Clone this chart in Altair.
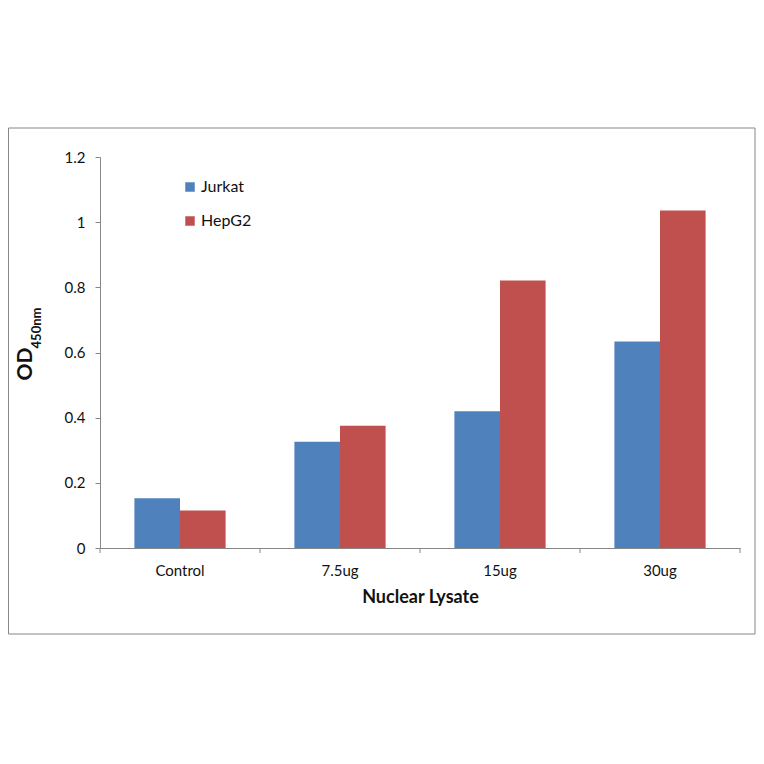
import altair as alt
import pandas as pd

categories = ["Control", "7.5ug", "15ug", "30ug"]
series = ["Jurkat", "HepG2"]
jurkat = [0.153, 0.326, 0.420, 0.634]
hepg2 = [0.115, 0.375, 0.821, 1.036]
y_ticks = [0, 0.2, 0.4, 0.6, 0.8, 1.0, 1.2]
colors = ["#4F81BD", "#C0504D"]
boundaries = [0, 1, 2, 3, 4]

rows = []
for i, c in enumerate(categories):
    rows.append({"cat": c, "series": "Jurkat", "value": jurkat[i]})
    rows.append({"cat": c, "series": "HepG2", "value": hepg2[i]})
df = pd.DataFrame(rows)

W, H = 640, 391
FONT = "Lato"
GRAY = "#878787"

border = alt.Chart(alt.Data(values=[{}])).mark_rect(
    fill=None, stroke=GRAY, strokeWidth=1
).encode(x=alt.value(-91.5), x2=alt.value(655), y=alt.value(-29), y2=alt.value(477))

bars = alt.Chart(df).mark_bar().encode(
    x=alt.X("cat:N", sort=categories,
            scale=alt.Scale(paddingInner=0.43, paddingOuter=0.215),
            axis=alt.Axis(title="Nuclear Lysate", labelAngle=0, ticks=False, tickSize=0,
                          labelPadding=15, labelFont=FONT, labelFontSize=15, labelColor="#111",
                          titleFont=FONT, titleFontSize=18, titleFontWeight="bold", titleColor="#111",
                          titlePadding=10, domainColor=GRAY, grid=False)),
    xOffset=alt.XOffset("series:N", sort=series, scale=alt.Scale(paddingInner=0, paddingOuter=0)),
    y=alt.Y("value:Q", scale=alt.Scale(domain=[0, 1.2], nice=False, zero=True),
            axis=alt.Axis(values=y_ticks, format="~g", title=None, grid=False,
                          tickSize=5, tickColor=GRAY, domainColor=GRAY, labelPadding=10,
                          labelFont=FONT, labelFontSize=15, labelColor="#111")),
    color=alt.Color("series:N", sort=series,
                    scale=alt.Scale(domain=series, range=colors),
                    legend=alt.Legend(orient="none", legendX=82, legendY=22, title=None,
                                      symbolType="square", symbolSize=90, symbolStrokeWidth=0,
                                      labelFont=FONT, labelFontSize=16, labelColor="#111",
                                      rowPadding=18, labelOffset=3)),
)

ticks = alt.Chart(alt.Data(values=[{"t": t} for t in boundaries])).mark_rule(color=GRAY).encode(
    x=alt.X("t:Q", scale=alt.Scale(domain=[0, 4], nice=False, zero=False), axis=None),
    y=alt.value(H), y2=alt.value(H + 5),
)

od = alt.Chart(alt.Data(values=[{}])).mark_text(
    text="OD", angle=270, font=FONT, fontSize=21, fontWeight="bold",
    align="center", baseline="middle", color="#111"
).encode(x=alt.value(-74.5), y=alt.value(207))

sub = alt.Chart(alt.Data(values=[{}])).mark_text(
    text="450nm", angle=270, font=FONT, fontSize=13, fontWeight="bold",
    align="center", baseline="middle", color="#111"
).encode(x=alt.value(-63.5), y=alt.value(171))

chart = alt.layer(border, bars, ticks, od, sub).resolve_scale(x="independent").properties(
    width=W, height=H,
    padding={"left": 92, "top": 149, "right": 16, "bottom": 90},
    autosize=alt.AutoSizeParams(type="none"),
    background="white",
).configure_view(stroke=None)

chart.save("out.html", embed_options={"renderer": "svg", "actions": False})
